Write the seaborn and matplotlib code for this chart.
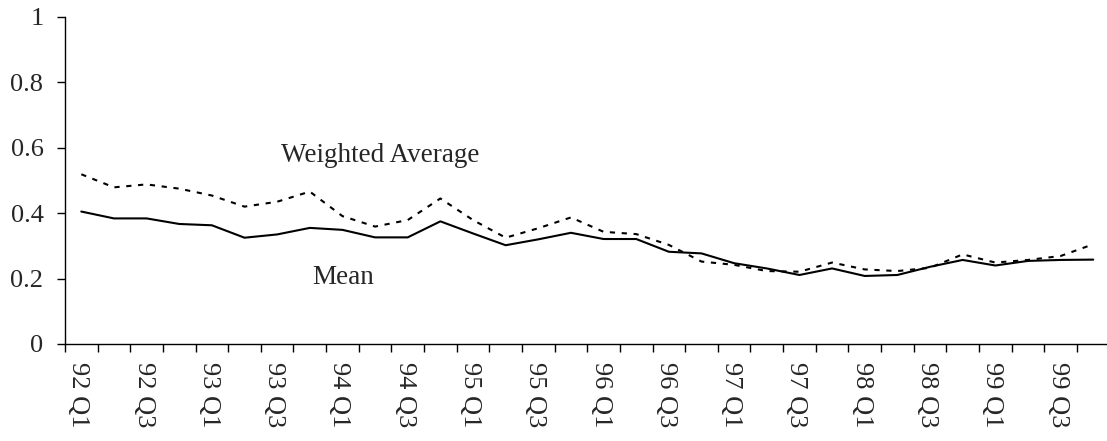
import pandas as pd
import matplotlib.pyplot as plt
import matplotlib.transforms as mtransforms
import seaborn as sns

quarters = [f"{yy} Q{q}" for yy in range(92, 100) for q in range(1, 5)]

mean_vals = [0.405, 0.384, 0.384, 0.367, 0.363, 0.325, 0.335, 0.355,
             0.349, 0.326, 0.326, 0.375, 0.338, 0.302, 0.320, 0.340,
             0.321, 0.321, 0.282, 0.277, 0.247, 0.231, 0.211, 0.231,
             0.208, 0.211, 0.236, 0.257, 0.240, 0.254, 0.257, 0.258]

weighted_vals = [0.519, 0.479, 0.488, 0.475, 0.454, 0.420, 0.435, 0.466,
                 0.391, 0.359, 0.379, 0.445, 0.379, 0.325, 0.354, 0.387,
                 0.343, 0.336, 0.303, 0.252, 0.242, 0.223, 0.221, 0.249,
                 0.228, 0.223, 0.233, 0.274, 0.249, 0.257, 0.269, 0.305]

df = pd.DataFrame({
    "idx": list(range(len(quarters))),
    "quarter": quarters,
    "mean": mean_vals,
    "weighted": weighted_vals,
})

sns.set_style("ticks")
plt.rcParams["font.family"] = ["Liberation Serif", "DejaVu Serif"]

fig = plt.figure(figsize=(11.07, 4.41), dpi=100)
ax = fig.add_axes([0.0587, 0.22, 0.9436, 0.7415])

sns.lineplot(data=df, x="idx", y="weighted", ax=ax, color="black",
             linewidth=1.5, dashes=False)
ax.lines[-1].set_dashes((2.5, 3.2))
sns.lineplot(data=df, x="idx", y="mean", ax=ax, color="black", linewidth=1.5)

ax.set_xlim(-0.5, len(quarters) - 0.5)
ax.set_ylim(0, 1)
ax.set_yticks([0, 0.2, 0.4, 0.6, 0.8, 1.0])
ax.set_yticklabels(["0", "0.2", "0.4", "0.6", "0.8", "1"])

ax.set_xticks(list(range(0, len(quarters), 2)))
ax.set_xticklabels(quarters[::2], rotation=270, ha="center", va="top")
ax.set_xticks([i - 0.5 for i in range(len(quarters) + 1)], minor=True)
ax.tick_params(axis="x", which="major", length=0, pad=13, labelsize=19)
ax.tick_params(axis="x", which="minor", length=5.5, width=1, color="black")
ax.tick_params(axis="y", length=5.5, width=1, labelsize=19, pad=10, color="black")

# nudge the rotated labels slightly left, as in the original
shift = mtransforms.ScaledTranslation(-3 / 100, 0, fig.dpi_scale_trans)
for lbl in ax.get_xticklabels():
    lbl.set_transform(lbl.get_transform() + shift)

ax.set_xlabel("")
ax.set_ylabel("")
for side in ["top", "right"]:
    ax.spines[side].set_visible(False)
for side in ["left", "bottom"]:
    ax.spines[side].set_color("black")
    ax.spines[side].set_linewidth(1)

ax.text(6.13, 0.557, "Weighted Average", fontsize=19.5, ha="left", va="baseline")
ax.text(7.08, 0.183, "Mean", fontsize=19.5, ha="left", va="baseline")

fig.savefig("out.png", dpi=100)
